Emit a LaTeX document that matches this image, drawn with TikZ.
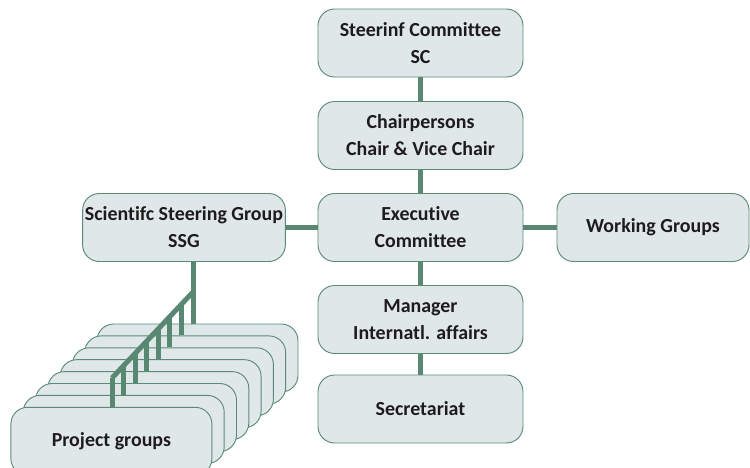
\documentclass[tikz,border=0pt]{standalone}
\usepackage{fontspec}
\setmainfont{Carlito}[Ligatures=NoCommon]
\usepackage{tikz}
\usetikzlibrary{calc}

\definecolor{boxfill}{RGB}{224,231,233}
\definecolor{edgegreen}{RGB}{92,138,120}
\definecolor{linkgreen}{RGB}{88,135,114}
\definecolor{textdark}{RGB}{30,27,28}

\tikzset{
  orgbox/.style={draw=edgegreen, fill=boxfill, line width=0.8pt, rounded corners=0.5cm,
    align=center, minimum width=6.15cm, minimum height=2.04cm, inner sep=2pt,
    text=textdark, font=\bfseries\fontsize{17}{23}\selectfont},
  link/.style={linkgreen, line width=0.15cm}
}

\begin{document}
\begin{tikzpicture}[x=0.03cm,y=-0.03cm]
\useasboundingbox (0,0) rectangle (750,467);

% centre column
\node[orgbox] (sc) at (420.5,43) {Steerinf Committee\\SC};
\node[orgbox] (chair) at (420.5,135.5) {Chairpersons\\Chair \& Vice Chair};
\node[orgbox] (exec) at (420.5,227.5) {Executive\\Committee};
\node[orgbox] (manager) at (420.5,319.5) {Manager\\Internatl. affairs};
\node[orgbox] (secr) at (420.5,409) {Secretariat};

% side boxes
\node[orgbox, minimum width=5.94cm] (ssg) at (184,227.5) {Scientifc Steering Group\\SSG};
\node[orgbox, minimum width=5.76cm] (wg) at (653,227.5) {Working Groups};

% project group stack
\foreach \i in {0,...,6}
  \node[orgbox, minimum width=6.03cm] (pg\i) at (197.5-12.3*\i,358+11.9*\i) {};
\node[orgbox, minimum width=6.03cm] (pg7) at (197.5-12.3*7,358+11.9*7) {Project groups};

\draw[link] (sc) -- (chair);
\draw[link] (chair) -- (exec);
\draw[link] (exec) -- (manager);
\draw[link] (manager) -- (secr);
\draw[link] (exec) -- (ssg);
\draw[link] (exec) -- (wg);

% stair down to the project groups
\coordinate (stair) at ($(ssg.south)+(9,0)$);
\coordinate (railtop) at (193,292);
\coordinate (railend) at (112,378);
\draw[link] (stair) -- (stair |- pg0.north);
\draw[link] (railtop) -- (railend);
\foreach \i in {1,...,7} {
  \coordinate (leg\i) at ($(railtop)!\i/7!(railend)$);
  \draw[link] (leg\i) -- (leg\i |- pg\i.north);
}

\end{tikzpicture}
\end{document}
